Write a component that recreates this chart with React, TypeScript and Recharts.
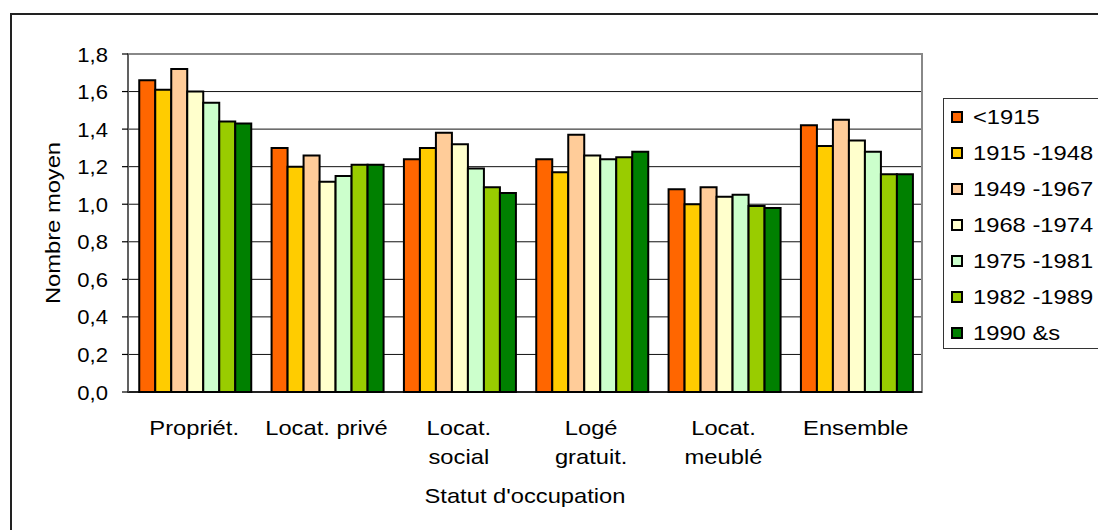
import React from 'react';
import { BarChart, Bar, XAxis, YAxis, CartesianGrid, ReferenceArea, Label } from 'recharts';

// Occupancy status categories (x axis)
const categories = ['Propriét.', 'Locat. privé', 'Locat. social', 'Logé gratuit.', 'Locat. meublé', 'Ensemble'];
// How each category label wraps on the axis
const categoryLines = [['Propriét.'], ['Locat. privé'], ['Locat.', 'social'], ['Logé', 'gratuit.'], ['Locat.', 'meublé'], ['Ensemble']];

// Construction periods (series)
const periods = ['<1915', '1915 -1948', '1949 -1967', '1968 -1974', '1975 -1981', '1982 -1989', '1990 &s'];
const periodColors = ['#FF6600', '#FFCC00', '#FFCC99', '#FFFFCC', '#CCFFCC', '#99CC00', '#008000'];

// Average number per category, one array per period
const before1915 = [1.66, 1.30, 1.24, 1.24, 1.08, 1.42];
const p1915to1948 = [1.61, 1.20, 1.30, 1.17, 1.00, 1.31];
const p1949to1967 = [1.72, 1.26, 1.38, 1.37, 1.09, 1.45];
const p1968to1974 = [1.60, 1.12, 1.32, 1.26, 1.04, 1.34];
const p1975to1981 = [1.54, 1.15, 1.19, 1.24, 1.05, 1.28];
const p1982to1989 = [1.44, 1.21, 1.09, 1.25, 0.99, 1.16];
const since1990 = [1.43, 1.21, 1.06, 1.28, 0.98, 1.16];

const seriesValues = [before1915, p1915to1948, p1949to1967, p1968to1974, p1975to1981, p1982to1989, since1990];

const yTicks = [0, 0.2, 0.4, 0.6, 0.8, 1.0, 1.2, 1.4, 1.6, 1.8];
// Category boundaries, used for the tick marks between groups
const boundTicks = [0, 1, 2, 3, 4, 5, 6];

const data = categories.map((category, i) => {
  const row: Record<string, string | number> = { category, pos: i + 0.5 };
  seriesValues.forEach((values, k) => {
    row['s' + k] = values[i];
  });
  return row;
});

const FONT = '"Liberation Sans", Arial, sans-serif';
const FS = 21;
const SX = 1.13;

const fmt = (v: number) => v.toFixed(1).replace('.', ',');

const YTick = (props: any) => {
  const { x, y, payload } = props;
  return (
    <text
      transform={`translate(${x},${y}) scale(1.05,1)`}
      textAnchor="end"
      dy="0.36em"
      fontSize={FS}
      fontFamily={FONT}
      fill="#000"
    >
      {fmt(Number(payload.value))}
    </text>
  );
};

const XTick = (props: any) => {
  const { x, y, payload } = props;
  const idx = categories.indexOf(payload.value);
  const lines = categoryLines[idx] || [payload.value];
  return (
    <g>
      {lines.map((line, li) => (
        <text
          key={li}
          transform={`translate(${x},${y + 43 + li * 28.5}) scale(${SX},1)`}
          textAnchor="middle"
          fontSize={FS}
          fontFamily={FONT}
          fill="#000"
        >
          {line}
        </text>
      ))}
    </g>
  );
};

const YTitle = (props: any) => {
  const vb = props.viewBox;
  const cx = vb.x - 16;
  const cy = vb.y + vb.height / 2;
  return (
    <text
      transform={`translate(${cx},${cy}) rotate(-90) scale(${SX},1)`}
      textAnchor="middle"
      dy="0.36em"
      fontSize={FS}
      fontFamily={FONT}
      fill="#000"
    >
      Nombre moyen
    </text>
  );
};

const XTitle = (props: any) => {
  const vb = props.viewBox;
  const cx = vb.x + vb.width / 2;
  const cy = vb.y + 111;
  return (
    <text
      transform={`translate(${cx},${cy}) scale(${SX},1)`}
      textAnchor="middle"
      fontSize={FS}
      fontFamily={FONT}
      fill="#000"
    >
      Statut d'occupation
    </text>
  );
};

const LegendBox = () => (
  <div
    style={{
      position: 'absolute',
      left: 943,
      top: 98,
      width: 200,
      height: 251,
      border: '1.5px solid #333',
      boxSizing: 'border-box',
      background: '#fff',
    }}
  >
    {periods.map((p, i) => {
      const cy = 18 + i * 36;
      return (
        <React.Fragment key={p}>
          <div
            style={{
              position: 'absolute',
              left: 7,
              top: cy - 6,
              width: 12,
              height: 12,
              border: '2px solid #000',
              boxSizing: 'border-box',
              background: periodColors[i],
            }}
          />
          <span
            style={{
              position: 'absolute',
              left: 29,
              top: cy - 12,
              height: 24,
              lineHeight: '24px',
              fontSize: FS,
              fontFamily: FONT,
              color: '#000',
              whiteSpace: 'nowrap',
              transform: `scaleX(${SX})`,
              transformOrigin: 'left center',
            }}
          >
            {p}
          </span>
        </React.Fragment>
      );
    })}
  </div>
);

export default function App() {
  return (
    <div
      style={{
        position: 'absolute',
        left: 0,
        top: 0,
        width: 1098,
        height: 530,
        overflow: 'hidden',
        background: '#fff',
      }}
    >
      <div
        style={{
          position: 'absolute',
          left: 10,
          top: 13,
          width: 1200,
          height: 700,
          border: '2px solid #222',
          boxSizing: 'border-box',
        }}
      />
      <div style={{ position: 'absolute', left: 0, top: 0 }}>
        <BarChart
          width={1098}
          height={530}
          data={data}
          margin={{ top: 54, right: 176, left: 68, bottom: 38 }}
          barCategoryGap="8.5%"
          barGap={0}
        >
          <CartesianGrid vertical={false} stroke="#111" strokeWidth={1} />
          <XAxis
            xAxisId="bounds"
            dataKey="pos"
            type="number"
            domain={[0, 6]}
            allowDataOverflow
            ticks={boundTicks}
            interval={0}
            height={0}
            tick={false}
            tickSize={6}
            tickLine={{ stroke: '#000', strokeWidth: 1.2 }}
            axisLine={false}
          />
          <XAxis
            dataKey="category"
            height={100}
            tickLine={false}
            tickSize={0}
            tickMargin={0}
            axisLine={{ stroke: '#000', strokeWidth: 1.5 }}
            tick={<XTick />}
            interval={0}
          >
            <Label content={<XTitle />} />
          </XAxis>
          <YAxis
            width={60}
            domain={[0, 1.8]}
            ticks={yTicks}
            tickSize={6}
            tickMargin={14}
            tickLine={{ stroke: '#000', strokeWidth: 1.2 }}
            axisLine={{ stroke: '#555', strokeWidth: 1.5 }}
            tick={<YTick />}
            interval={0}
          >
            <Label content={<YTitle />} />
          </YAxis>
          <ReferenceArea
            xAxisId="bounds"
            x1={0}
            x2={6}
            y1={0}
            y2={1.8}
            fill="none"
            stroke="#888"
            strokeWidth={2}
            ifOverflow="visible"
          />
          {periods.map((p, k) => (
            <Bar
              key={p}
              dataKey={'s' + k}
              name={p}
              fill={periodColors[k]}
              stroke="#000"
              strokeWidth={2}
              isAnimationActive={false}
            />
          ))}
        </BarChart>
      </div>
      <LegendBox />
    </div>
  );
}
